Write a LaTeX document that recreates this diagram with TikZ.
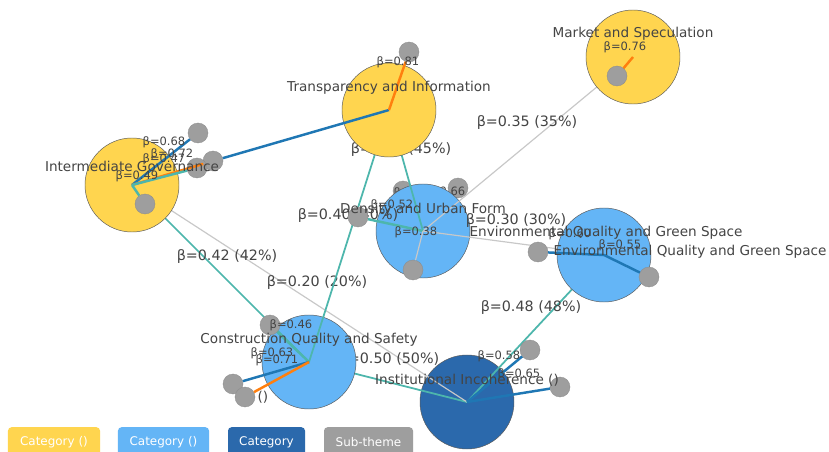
\documentclass[tikz,border=0pt]{standalone}
\usepackage{fontspec}
\setmainfont{DejaVu Sans}
\usetikzlibrary{positioning}
\definecolor{catyellow}{HTML}{FFD54F}
\definecolor{catlight}{HTML}{64B5F6}
\definecolor{catdark}{HTML}{2B69AC}
\definecolor{subgray}{HTML}{9E9E9E}
\definecolor{lineblue}{HTML}{1F77B4}
\definecolor{lineorange}{HTML}{FF7F0E}
\definecolor{lineteal}{HTML}{4DB6AC}
\definecolor{linegray}{HTML}{C8C8C8}
\definecolor{labelgray}{HTML}{444444}

\begin{document}
\begin{tikzpicture}
		[x=0.03cm, y=-0.03cm,
		 catnode/.style={circle, draw=black!65, line width=0.4pt, minimum size=2.82cm, inner sep=0pt},
		 subnode/.style={circle, fill=subgray, draw=black!45, line width=0.3pt, minimum size=0.6cm, inner sep=0pt},
		 catlabel/.style={text=labelgray, font=\fontsize{11.6}{13}\selectfont, inner sep=0pt},
		 betalabel/.style={text=labelgray, font=\fontsize{9.8}{11}\selectfont, inner sep=0pt},
		 edgelabel/.style={text=labelgray, font=\fontsize{12.2}{14}\selectfont, inner sep=0pt},
		 catlink/.style={line width=1.5pt},
		 sublink/.style={line width=2.1pt},
		 legendbox/.style={rounded corners=3pt, text=white, font=\fontsize{10.2}{12}\selectfont, minimum height=0.9cm, anchor=north, inner sep=0pt}]
		\useasboundingbox (0,0) rectangle (829,452);
		\fill[white] (0,0) rectangle (829,452);

		\node[catnode, fill=catdark] (inst) at (467,402) {};

		\coordinate (ig-c) at (132,185);
		\coordinate (env-c) at (604,255);
		\coordinate (constr-c) at (309,362);
		\draw[catlink, lineteal] (constr-c) -- (inst.center);
		\draw[catlink, linegray, line width=1pt] (ig-c) -- (inst.center);
		\draw[catlink, lineteal] (env-c) -- (inst.center);
		\node[edgelabel] (l-constr-inst) at (389,360) {β=0.50 (50\%)};
		\node[edgelabel] (l-env-inst) at (531,308) {β=0.48 (48\%)};
		\node[edgelabel] (l-ig-inst) at (317,283) {β=0.20 (20\%)};

		\node[catnode, fill=catlight] (constr) at (constr-c) {};

		\coordinate (dense-c) at (423,231);
		\node[subnode] (s7) at (403,191) {};
		\draw[sublink, lineblue] (dense-c) -- (458,188) node[subnode] (s8) {};
		\node[betalabel] (b-s7) at (415,193) {β=0.64};
		\node[betalabel] (b-s8) at (444,192) {β=0.66};
		\node[catnode, fill=catlight] (dense) at (dense-c) {};

		\coordinate (trans-c) at (389,110);
		\coordinate (market-c) at (633,57);
		\draw[catlink, lineteal] (ig-c) -- (constr.center);
		\draw[catlink, lineteal] (trans-c) -- (constr.center);
		\draw[catlink, lineteal] (trans-c) -- (dense.center);
		\draw[catlink, linegray, line width=1pt] (market-c) -- (dense.center);
		\draw[catlink, linegray, line width=1pt] (dense.center) -- (env-c);
		\node[edgelabel] (l-ig-constr) at (227,257) {β=0.42 (42\%)};
		\node[edgelabel] (l-trans-constr) at (348,216) {β=0.40 (40\%)};
		\node[edgelabel] (l-trans-dense) at (401,150) {β=0.45 (45\%)};
		\node[edgelabel] (l-market-dense) at (527,123) {β=0.35 (35\%)};
		\node[edgelabel] (l-dense-env) at (516,221) {β=0.30 (30\%)};

		\node[catnode, fill=catyellow] (ig) at (ig-c) {};
		\node[catnode, fill=catyellow] (trans) at (trans-c) {};
		\node[catnode, fill=catyellow] (market) at (market-c) {};
		\node[catnode, fill=catlight] (env) at (env-c) {};

		\node[subnode] (s1) at (198,133) {};
		\node[subnode] (s2) at (213,161) {};
		\node[subnode] (s3) at (197,168) {};
		\node[subnode] (s4) at (145,204) {};
		\node[subnode] (s5) at (409,52) {};
		\node[subnode] (s6) at (617,76) {};
		\node[subnode] (s9) at (358,217) {};
		\node[subnode] (s10) at (413,270) {};
		\node[subnode] (s11) at (538,252) {};
		\node[subnode] (s12) at (649,277) {};
		\node[subnode] (s13) at (270,325) {};
		\node[subnode] (s14) at (233,384) {};
		\node[subnode] (s15) at (245,397) {};
		\node[subnode] (s16) at (530,350) {};
		\node[subnode] (s17) at (560,387) {};

		\draw[sublink, lineblue] (ig.center) -- (s1);
		\draw[sublink, lineorange] (ig.center) -- (s2);
		\draw[sublink, lineteal] (ig.center) -- (s3);
		\draw[sublink, lineteal] (ig.center) -- (s4);
		\draw[sublink, lineblue] (trans.center) -- (s2);
		\draw[sublink, lineorange] (trans.center) -- (s5);
		\draw[sublink, lineorange] (market.center) -- (s6);
		\draw[sublink, lineteal] (dense.center) -- (s9);
		\draw[catlink, linegray, line width=1pt] (dense.center) -- (s10);
		\draw[sublink, lineblue] (env.center) -- (s11);
		\draw[sublink, lineblue] (env.center) -- (s12);
		\draw[sublink, lineteal] (constr.center) -- (s13);
		\draw[sublink, lineblue] (constr.center) -- (s14);
		\draw[sublink, lineorange] (constr.center) -- (s15);
		\draw[sublink, lineblue] (inst.center) -- (s16);
		\draw[sublink, lineblue] (inst.center) -- (s17);

		\node[betalabel] (b-s1) at (164,142) {β=0.68};
		\node[betalabel] (b-s2) at (172,154) {β=0.72};
		\node[betalabel] (b-s3) at (164,159) {β=0.47};
		\node[betalabel] (b-s4) at (137,176) {β=0.49};
		\node[betalabel] (b-s5) at (398,62) {β=0.81};
		\node[betalabel] (b-s6) at (625,47) {β=0.76};
		\node[betalabel] (b-s9) at (392,205) {β=0.52};
		\node[betalabel] (b-s10) at (416,232) {β=0.38};
		\node[betalabel] (b-s11) at (570,234) {β=0.60};
		\node[betalabel] (b-s12) at (620,245) {β=0.55};
		\node[betalabel] (b-s13) at (291,325) {β=0.46};
		\node[betalabel] (b-s14) at (272,353) {β=0.63};
		\node[betalabel] (b-s15) at (277,360) {β=0.71};
		\node[catlabel] (b-s15b) at (263,397) {()};
		\node[betalabel] (b-s16) at (499,356) {β=0.58};
		\node[betalabel] (b-s17) at (519,374) {β=0.65};

		\node[catlabel] (t-ig) at (132,166) {Intermediate Governance};
		\node[catlabel] (t-trans) at (389,88) {Transparency and Information};
		\node[catlabel] (t-market) at (633,34) {Market and Speculation};
		\node[catlabel] (t-dense) at (423,210) {Density and Urban Form};
		\node[catlabel] (t-env) at (606,233) {Environmental Quality and Green Space};
		\node[catlabel] (t-env2) at (690,252) {Environmental Quality and Green Space};
		\node[catlabel] (t-constr) at (309,340) {Construction Quality and Safety};
		\node[catlabel] (t-inst) at (467,380) {Institutional Incoherence ()};

		\node[legendbox, fill=catyellow, minimum width=2.76cm] (leg1) at (54,427) {Category ()};
		\node[legendbox, fill=catlight, minimum width=2.73cm] (leg2) at (163.5,427) {Category ()};
		\node[legendbox, fill=catdark, minimum width=2.31cm] (leg3) at (266.5,427) {Category};
		\node[legendbox, fill=subgray, minimum width=2.67cm] (leg4) at (368.5,427) {Sub-theme};
	\end{tikzpicture}
\end{document}
